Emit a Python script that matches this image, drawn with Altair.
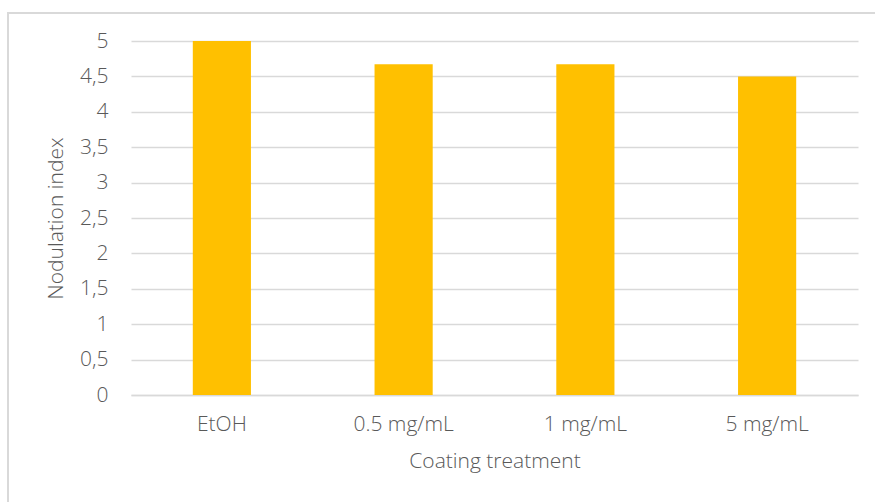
import altair as alt
import pandas as pd

# Nodulation index per coating treatment
treatments = ["EtOH", "0.5 mg/mL", "1 mg/mL", "5 mg/mL"]
nodulation = [5.0, 4.67, 4.67, 4.5]
y_ticks = [0, 0.5, 1, 1.5, 2, 2.5, 3, 3.5, 4, 4.5, 5]

df = pd.DataFrame({"treatment": treatments, "index": nodulation})

FONT = "Open Sans"
GREY = "#595959"
GRID = "#D9D9D9"

bars = alt.Chart(df).mark_bar(color="#FFC000").encode(
    x=alt.X(
        "treatment:N",
        sort=treatments,
        scale=alt.Scale(paddingInner=0.68, paddingOuter=0.34),
        axis=alt.Axis(
            title="Coating treatment",
            labelAngle=0,
            ticks=False,
            tickSize=0,
            labelPadding=18,
            titlePadding=16,
            domainColor=GRID,
            domainWidth=1.5,
            grid=False,
        ),
    ),
    y=alt.Y(
        "index:Q",
        scale=alt.Scale(domain=[0, 5], nice=False),
        axis=alt.Axis(
            title="Nodulation index",
            values=y_ticks,
            labelExpr="replace(format(datum.value, '~g'), '.', ',')",
            ticks=False,
            tickSize=0,
            domain=False,
            labelPadding=23,
            gridColor=GRID,
            gridWidth=1.5,
            titleX=-75,
            titleY=177,
            titleAngle=-90,
            titleAlign="center",
            titleBaseline="middle",
        ),
    ),
)

# outer chart frame (its right and bottom edges fall outside the page)
frame = alt.Chart(df).mark_rect(
    fill=None, stroke=GRID, strokeWidth=1.5, clip=False
).encode(
    x=alt.value(-123),
    x2=alt.value(760),
    y=alt.value(-28),
    y2=alt.value(480),
)

chart = (
    alt.layer(frame, bars)
    .properties(
        width=727,
        height=354,
        padding={"left": 131, "top": 41, "right": 17, "bottom": 107},
        autosize=alt.AutoSizeParams(type="none"),
        background="white",
    )
    .configure_view(stroke=None)
    .configure_axis(
        labelFont=FONT,
        titleFont=FONT,
        labelFontSize=21,
        titleFontSize=21,
        labelFontWeight=300,
        titleFontWeight=300,
        labelColor=GREY,
        titleColor=GREY,
    )
)

chart.save("out.html", embed_options={"renderer": "svg", "actions": False})
